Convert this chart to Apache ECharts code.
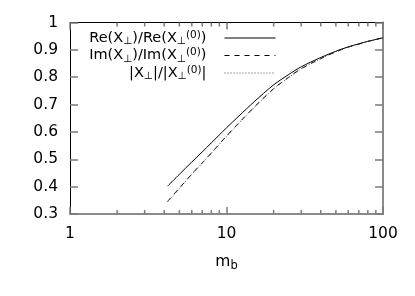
<!DOCTYPE html>
<html><head><meta charset="utf-8">
<script src="https://cdn.jsdelivr.net/npm/echarts@6/dist/echarts.min.js"></script>
<style>html,body{margin:0;padding:0;background:#fff}#c{width:415px;height:296px}</style>
</head><body><div id="c"></div>
<script>
// data
const mb = [4.2, 5, 6, 7, 8, 10, 12, 15, 20, 25, 30, 40, 50, 60, 70, 80, 100];
const reRatio = [0.402, 0.445, 0.490, 0.527, 0.560, 0.615, 0.658, 0.710, 0.772, 0.810, 0.838, 0.872, 0.895, 0.911, 0.922, 0.931, 0.944];
const imRatio = [0.346, 0.395, 0.446, 0.487, 0.523, 0.585, 0.633, 0.690, 0.758, 0.800, 0.831, 0.868, 0.893, 0.910, 0.921, 0.931, 0.944];
const absRatio = [0.344, 0.393, 0.445, 0.486, 0.522, 0.584, 0.632, 0.689, 0.757, 0.799, 0.831, 0.868, 0.893, 0.910, 0.921, 0.931, 0.944];
const xTicks = [1, 10, 100];
const xMinorTicks = [2,3,4,5,6,7,8,9,20,30,40,50,60,70,80,90];
const yTicks = [0.3,0.4,0.5,0.6,0.7,0.8,0.9,1];
const seriesNames = ['re', 'im', 'abs'];

const FONT = 'DejaVu Sans';
const FS = 15.5;
const LFS = 14.5;
const legendText = {
  re: 'Re(X{sub|⊥})/Re(X{sub|⊥}{sup|(0)})',
  im: 'Im(X{sub|⊥})/Im(X{sub|⊥}{sup|(0)})',
  abs: '|X{sub|⊥}|/|X{sub|⊥}{sup|(0)}|'
};
const pair = (xs, ys) => xs.map((x, i) => [x, ys[i]]);

const chart = echarts.init(document.getElementById('c'));
const lineCol = '#000';
const tickCol = '#7a7a7a';
const tick = (len) => ({show: true, inside: true, length: len, lineStyle: {color: tickCol, width: 1.5}});
chart.setOption({
  animation: false,
  grid: {left: 70, right: 32, top: 22.5, bottom: 82},
  xAxis: [{
    type: 'log', logBase: 10, min: 1, max: 100, position: 'bottom',
    axisLine: {show: true, lineStyle: {color: '#8a8a8a', width: 2}},
    axisTick: tick(7),
    minorTick: {show: false},
    splitLine: {show: false},
    axisLabel: {margin: 12, fontFamily: FONT, fontSize: FS, color: '#000',
      formatter: v => String(Math.round(v))},
    name: '{m|m}{b|b}', nameLocation: 'middle', nameGap: 38,
    nameTextStyle: {rich: {
      m: {fontFamily: FONT, fontSize: FS, color: '#000'},
      b: {fontFamily: FONT, fontSize: 11.5, color: '#000', padding: [8, 0, 0, 0]}
    }}
  }, {
    type: 'log', logBase: 10, min: 1, max: 100, position: 'top',
    axisLine: {show: true, lineStyle: {color: '#000', width: 1}},
    axisTick: tick(7),
    axisLabel: {show: false}, splitLine: {show: false}
  }],
  yAxis: [{
    type: 'value', min: 0.3, max: 1, interval: 0.1, position: 'left',
    axisLine: {show: true, lineStyle: {color: '#000', width: 1}},
    axisTick: tick(8),
    splitLine: {show: false},
    axisLabel: {margin: 12, fontFamily: FONT, fontSize: FS, color: '#000',
      formatter: v => String(Math.round(v * 10) / 10)}
  }, {
    type: 'value', min: 0.3, max: 1, interval: 0.1, position: 'right',
    axisLine: {show: true, lineStyle: {color: '#8a8a8a', width: 2}},
    axisTick: tick(8),
    splitLine: {show: false}, axisLabel: {show: false}
  }],
  legend: {
    orient: 'vertical', right: 139, top: 29.5, align: 'right',
    itemWidth: 51, itemHeight: 14, itemGap: 0, padding: 0,
    data: seriesNames,
    itemStyle: {opacity: 0},
    lineStyle: {width: 1},
    formatter: n => legendText[n],
    textStyle: {fontFamily: FONT, fontSize: LFS, color: '#000', padding: [0, 13, 0, 0],
      rich: {
        sub: {fontFamily: FONT, fontSize: 10.5, color: '#000', padding: [7, 0, 0, 0]},
        sup: {fontFamily: FONT, fontSize: 10.5, color: '#000', padding: [0, 0, 6, 0]}
      }}
  },
  series: [
    {name: 're', type: 'line', data: pair(mb, reRatio), showSymbol: false, symbol: 'none', smooth: 0.3,
     lineStyle: {color: lineCol, width: 1, type: 'solid'}, itemStyle: {color: '#555'}},
    {name: 'im', type: 'line', data: pair(mb, imRatio), showSymbol: false, symbol: 'none', smooth: 0.3,
     lineStyle: {color: lineCol, width: 1, type: [5, 5]}, itemStyle: {color: '#555'}},
    {name: 'abs', type: 'line', data: pair(mb, absRatio), showSymbol: false, symbol: 'none', smooth: 0.3,
     lineStyle: {color: '#444', width: 1, type: [1, 2]}, itemStyle: {color: '#777'}},
    {type: 'custom', data: xMinorTicks.map(v => [v, 0.3]),
     renderItem: (params, api) => {
       const b = api.coord([api.value(0), 0.3]);
       const t = api.coord([api.value(0), 1]);
       return {type: 'group', children: [
         {type: 'rect', shape: {x: b[0] - 0.75, y: b[1] - 4, width: 1.5, height: 4}, style: {fill: tickCol}},
         {type: 'rect', shape: {x: t[0] - 0.75, y: t[1], width: 1.5, height: 4}, style: {fill: tickCol}}
       ]};
     }}
  ]
});
</script></body></html>
